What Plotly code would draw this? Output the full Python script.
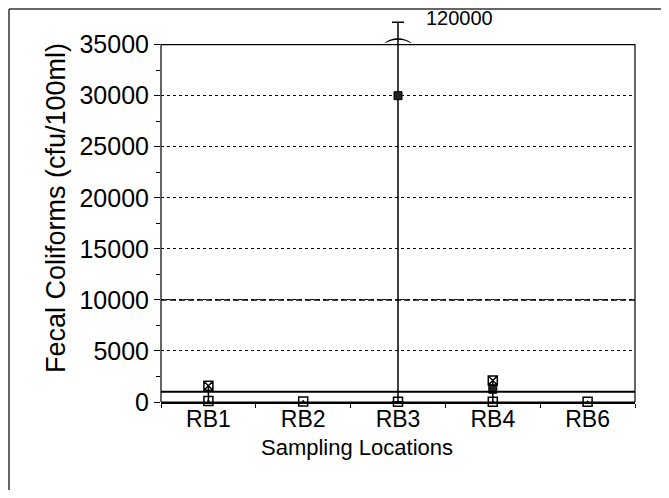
import plotly.graph_objects as go

# ---- data ----
sites = ["RB1", "RB2", "RB3", "RB4", "RB6"]
fc_min = [100, 60, 30, 30, 20]
fc_mean = [None, None, 30000, 1250, None]
fc_max = [1600, 60, 120000, 2100, 20]
y_ticks = [0, 5000, 10000, 15000, 20000, 25000, 30000, 35000]
y_minor = [2500, 7500, 12500, 17500, 22500, 27500, 32500]
ref_solid = 1000
ref_dashed = 10000
axis_top = 35000
break_display = 37200  # where off-scale whiskers are drawn (axis break)

# page body has an 8px margin, so figure origin sits at (8, 8)
W, H = 653, 482
ML, MR, MT, MB = 153, 26, 6, 88
PW, PH = W - ML - MR, H - MT - MB
FONT = "Liberation Sans, Arial, sans-serif"

fig = go.Figure()

# whiskers (min to max); off-scale ones end at the break with a cap
on_x, on_y, on_up = [], [], []
br_x, br_y, br_up = [], [], []
for s, lo, hi in zip(sites, fc_min, fc_max):
    if hi <= lo:
        continue
    if hi > axis_top:
        br_x.append(s); br_y.append(lo); br_up.append(break_display - lo)
    else:
        on_x.append(s); on_y.append(lo); on_up.append(hi - lo)

fig.add_trace(go.Scatter(
    x=on_x, y=on_y, mode="markers", marker=dict(size=1, color="rgba(0,0,0,0)"),
    error_y=dict(type="data", symmetric=False, array=on_up, arrayminus=[0] * len(on_up),
                 width=0, thickness=1.5, color="black"),
    cliponaxis=False, hoverinfo="skip"))
fig.add_trace(go.Scatter(
    x=br_x, y=br_y, mode="markers", marker=dict(size=1, color="rgba(0,0,0,0)"),
    error_y=dict(type="data", symmetric=False, array=br_up, arrayminus=[0] * len(br_up),
                 width=6, thickness=1.5, color="black"),
    cliponaxis=False, hoverinfo="skip"))

# markers
fig.add_trace(go.Scatter(
    x=sites, y=fc_min, mode="markers", cliponaxis=False,
    marker=dict(symbol="square-open-dot", size=9, color="black", line=dict(width=1.5))))
fig.add_trace(go.Scatter(
    x=[s for s, m in zip(sites, fc_mean) if m is not None],
    y=[m for m in fc_mean if m is not None], mode="markers", cliponaxis=False,
    marker=dict(symbol="square", size=8, color="#222222", line=dict(width=1, color="black"))))
fig.add_trace(go.Scatter(
    x=[s for s, lo, hi in zip(sites, fc_min, fc_max) if hi > lo and hi <= axis_top],
    y=[hi for lo, hi in zip(fc_min, fc_max) if hi > lo and hi <= axis_top],
    mode="markers", cliponaxis=False,
    marker=dict(symbol="square-x-open", size=9, color="black", line=dict(width=1.5))))

shapes = [
    # plot frame 0..35000
    dict(type="rect", xref="paper", yref="y", x0=0, x1=1, y0=0, y1=axis_top,
         line=dict(color="black", width=1.2), layer="above"),
    dict(type="line", xref="paper", yref="y", x0=0, x1=1, y0=ref_solid, y1=ref_solid,
         line=dict(color="black", width=2)),
    dict(type="line", xref="paper", yref="y", x0=0, x1=1, y0=ref_dashed, y1=ref_dashed,
         line=dict(color="black", width=1.5, dash="6px,3px")),
    # outer frame (top and left edges)
    dict(type="line", xref="paper", yref="paper", x0=(1 - ML) / PW, x1=(W - ML) / PW,
         y0=1 + (MT - 1) / PH, y1=1 + (MT - 1) / PH, line=dict(color="#333", width=1.5)),
    dict(type="line", xref="paper", yref="paper", x0=(1 - ML) / PW, x1=(1 - ML) / PW,
         y0=-MB / PH, y1=1 + (MT - 1) / PH, line=dict(color="#333", width=1.5)),
]

annotations = [
    dict(text="Sampling Locations", xref="paper", yref="paper", x=(349 - ML) / PW, y=0,
         xanchor="center", yanchor="middle", yshift=-45, showarrow=False,
         font=dict(family=FONT, size=22, color="black")),
]
for s, hi in zip(sites, fc_max):
    if hi > axis_top:
        annotations.append(dict(x=s, y=break_display, xref="x", yref="y", text=f"{hi}",
                                showarrow=False, xanchor="left", yanchor="middle",
                                xshift=26, yshift=4, font=dict(family=FONT, size=20, color="black")))
        annotations.append(dict(x=s, y=axis_top, xref="x", yref="y", text="⌒",
                                showarrow=False, xanchor="center", yanchor="middle",
                                yshift=-8, font=dict(family="DejaVu Sans", size=32, color="black")))

fig.update_layout(
    width=W, height=H, margin=dict(l=ML, r=MR, t=MT, b=MB),
    paper_bgcolor="white", plot_bgcolor="white", showlegend=False,
    font=dict(family=FONT, color="black"),
    shapes=shapes, annotations=annotations,
    xaxis=dict(type="category", categoryorder="array", categoryarray=sites,
               range=[-0.5, len(sites) - 0.5], showline=True, linecolor="black", linewidth=1.5,
               ticks="outside", ticklen=4, tickcolor="black", tickson="boundaries",
               showgrid=False, tickfont=dict(size=23), ticklabelstandoff=-4),
    yaxis=dict(range=[0, 38000], tickmode="array", tickvals=y_ticks,
               ticktext=[str(v) for v in y_ticks], showline=False, zeroline=False,
               ticks="outside", ticklen=6, tickcolor="black",
               showgrid=True, gridcolor="black", gridwidth=1, griddash="dot",
               tickfont=dict(size=25),
               minor=dict(tickmode="array", tickvals=y_minor, ticks="outside", ticklen=4,
                          tickcolor="black", showgrid=False),
               title=dict(text="Fecal Coliforms (cfu/100ml)", font=dict(size=27), standoff=6)),
)

fig.write_html("out.html")
